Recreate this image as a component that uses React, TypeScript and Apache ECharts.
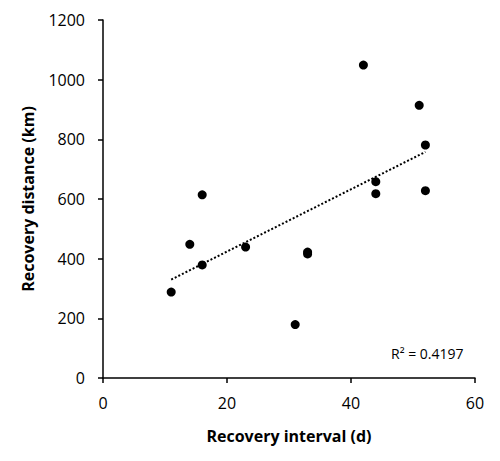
import React, { useEffect, useRef } from "react";
import * as echarts from "echarts";

const intervals = [11, 14, 16, 16, 23, 31, 33, 33, 42, 44, 44, 51, 52, 52];
const distances = [288, 448, 614, 379, 439, 179, 422, 416, 1049, 658, 618, 914, 781, 628];
const xTitle = "Recovery interval (d)";
const yTitle = "Recovery distance (km)";
const r2Label = "R² = 0.4197";

function fit(xs: number[], ys: number[]) {
  const n = xs.length;
  const mx = xs.reduce((a, b) => a + b, 0) / n;
  const my = ys.reduce((a, b) => a + b, 0) / n;
  let sxy = 0, sxx = 0;
  for (let i = 0; i < n; i++) {
    sxy += (xs[i] - mx) * (ys[i] - my);
    sxx += (xs[i] - mx) ** 2;
  }
  const slope = sxy / sxx;
  return { slope, intercept: my - slope * mx };
}

export default function App() {
  const ref = useRef<HTMLDivElement>(null);
  useEffect(() => {
    if (!ref.current) return;
    const chart = echarts.init(ref.current, null, { renderer: "svg" });
    const { slope, intercept } = fit(intervals, distances);
    const xMin = Math.min(...intervals);
    const xMax = Math.max(...intervals);
    const font = "'Open Sans', 'Liberation Sans', sans-serif";
    chart.setOption({
      animation: false,
      grid: { left: 95, right: 17, top: 12, bottom: 75 },
      xAxis: {
        type: "value",
        min: 0,
        max: 60,
        interval: 20,
        name: xTitle,
        nameLocation: "middle",
        nameGap: 50,
        nameTextStyle: { fontFamily: font, fontSize: 16, fontWeight: "bold", color: "#000" },
        axisLine: { show: true, onZero: false, lineStyle: { color: "#000", width: 1.5 } },
        axisTick: { show: true, inside: false, length: 5, lineStyle: { color: "#000", width: 1.5 } },
        axisLabel: { fontFamily: font, fontSize: 16, color: "#000", margin: 17, formatter: (v: number) => String(v) },
        splitLine: { show: false },
      },
      yAxis: {
        type: "value",
        min: 0,
        max: 1200,
        interval: 200,
        name: yTitle,
        nameLocation: "middle",
        nameGap: 67,
        nameTextStyle: { fontFamily: font, fontSize: 16, fontWeight: "bold", color: "#000" },
        axisLine: { show: true, onZero: false, lineStyle: { color: "#000", width: 1.5 } },
        axisTick: { show: true, inside: false, length: 5, lineStyle: { color: "#000", width: 1.5 } },
        axisLabel: { fontFamily: font, fontSize: 16, color: "#000", margin: 18, formatter: (v: number) => String(v) },
        splitLine: { show: false },
      },
      series: [
        {
          type: "line",
          data: [
            [xMin, intercept + slope * xMin],
            [xMax, intercept + slope * xMax],
          ],
          symbol: "none",
          lineStyle: { color: "#000", width: 2, type: [2, 2] },
          silent: true,
          z: 1,
        },
        {
          type: "scatter",
          data: intervals.map((x, i) => [x, distances[i]]),
          symbol: "circle",
          symbolSize: 9,
          itemStyle: { color: "#000", opacity: 1 },
          z: 2,
        },
      ],
      graphic: [
        {
          type: "text",
          left: 383,
          top: 338,
          style: { text: r2Label, fontFamily: font, fontSize: 14, fill: "#000" },
        },
      ],
    });
    return () => chart.dispose();
  }, []);
  return <div ref={ref} style={{ width: 484, height: 445 }} />;
}
